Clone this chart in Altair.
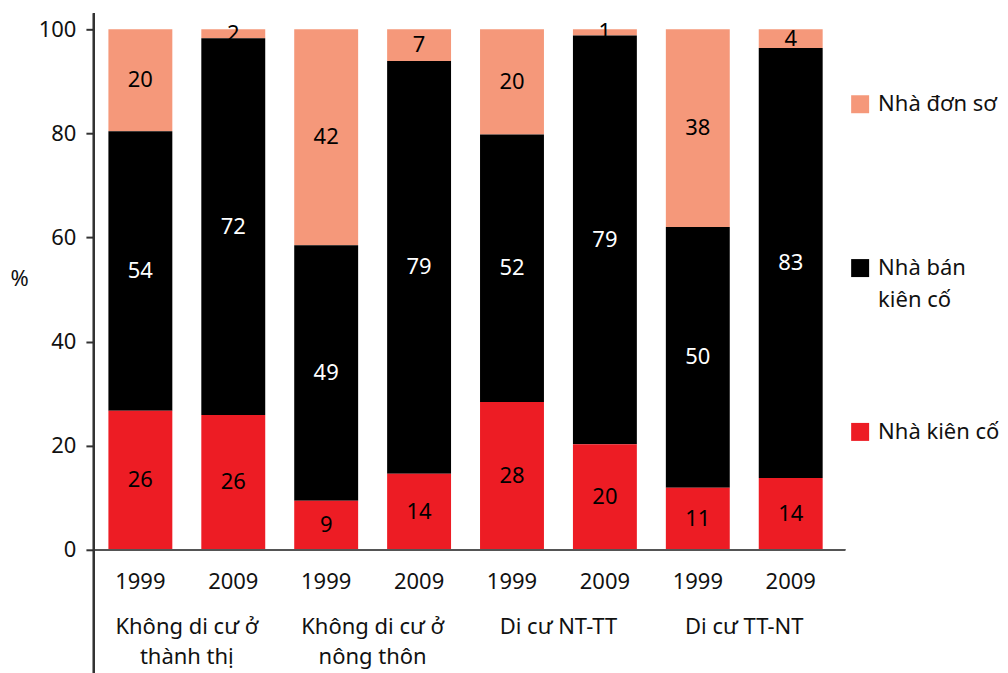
import altair as alt
import pandas as pd

# ---- data ----
groups = ["Không di cư ở\nthành thị", "Không di cư ở\nnông thôn", "Di cư NT-TT", "Di cư TT-NT"]
years = ["1999", "2009"]
types = ["Nhà đơn sơ", "Nhà bán kiên cố", "Nhà kiên cố"]

# segment heights (bars in order: group1 1999, group1 2009, ...)
kien_co = [26.7, 25.9, 9.4, 14.6, 28.4, 20.3, 11.9, 13.8]
ban_kien_co = [53.7, 72.4, 49.1, 79.3, 51.4, 78.5, 50.1, 82.6]
don_so = [19.6, 1.7, 41.5, 6.1, 20.2, 1.2, 38.0, 3.6]

# printed labels
lbl_kien_co = [26, 26, 9, 14, 28, 20, 11, 14]
lbl_ban_kien_co = [54, 72, 49, 79, 52, 79, 50, 83]
lbl_don_so = [20, 2, 42, 7, 20, 1, 38, 4]

colors = ["#F5987A", "#000000", "#ED1C24"]
label_colors = ["#000000", "#FFFFFF", "#000000"]

rows = []
series = [(types[0], don_so, lbl_don_so, 3),
          (types[1], ban_kien_co, lbl_ban_kien_co, 2),
          (types[2], kien_co, lbl_kien_co, 1)]
for t, vals, lbls, order in series:
    for i, (v, l) in enumerate(zip(vals, lbls)):
        rows.append({"group": groups[i // 2], "year": years[i % 2], "type": t,
                     "value": v, "label": str(l), "order": order})
df = pd.DataFrame(rows)

year_rows = [{"group": groups[i // 2], "year": years[i % 2]} for i in range(8)]
df_years = pd.DataFrame(year_rows)

FONT = "Noto Sans"
FS = 22
W, H = 744, 521

x_enc = alt.X("group:N", sort=groups,
              scale=alt.Scale(paddingInner=0, paddingOuter=0),
              axis=alt.Axis(title=None, domain=False, ticks=False, labelAngle=0,
                            labelPadding=67, labelFontSize=FS, labelFont=FONT,
                            labelColor="#111", labelLineHeight=30,
                            labelExpr="split(datum.label, '\\n')"))
xo_enc = alt.XOffset("year:N", sort=years,
                     scale=alt.Scale(paddingInner=0.312, paddingOuter=0.156))

bars = alt.Chart(df).mark_bar(stroke=None).encode(
    x=x_enc,
    xOffset=xo_enc,
    y=alt.Y("value:Q", stack="zero",
            scale=alt.Scale(domain=[0, 100], nice=False),
            axis=alt.Axis(values=[0, 20, 40, 60, 80, 100], grid=False, domain=False,
                          tickSize=8, tickColor="#333", tickWidth=2,
                          labelPadding=10, labelFontSize=FS, labelFont=FONT,
                          labelColor="#111",
                          title="%", titleAngle=0, titleAlign="left",
                          titleBaseline="middle", titleX=-84, titleY=249,
                          titleFontSize=FS, titleFont=FONT, titleFontWeight="normal",
                          titleColor="#111")),
    color=alt.Color("type:N", sort=types,
                    scale=alt.Scale(domain=types, range=colors),
                    legend=alt.Legend(title=None, orient="none", legendX=756, legendY=64,
                                      symbolType="square", symbolSize=324,
                                      symbolStrokeWidth=0, symbolOpacity=1,
                                      labelFontSize=FS, labelFont=FONT, labelColor="#111",
                                      labelOffset=7, rowPadding=110, labelLimit=0,
                                      padding=0,
                                      labelExpr="datum.label == 'Nhà bán kiên cố' ? ['Nhà bán', 'kiên cố'] : [datum.label, '']")),
    order=alt.Order("order:Q", sort="ascending"),
)

texts = alt.Chart(df).transform_stack(
    stack="value", groupby=["group", "year"], as_=["y0", "y1"],
    sort=[alt.SortField("order", order="ascending")]
).transform_calculate(
    mid="(datum.y0 + datum.y1) / 2"
).mark_text(font=FONT, fontSize=FS, baseline="middle").encode(
    x=alt.X("group:N", sort=groups),
    xOffset=alt.XOffset("year:N", sort=years),
    y=alt.Y("mid:Q"),
    text="label:N",
    color=alt.Color("type:N", scale=alt.Scale(domain=types, range=label_colors), legend=None),
)

year_text = alt.Chart(df_years).mark_text(font=FONT, fontSize=FS, baseline="middle",
                                          color="#111").encode(
    x=alt.X("group:N", sort=groups),
    xOffset=alt.XOffset("year:N", sort=years),
    y=alt.value(H + 32),
    text="year:N",
)

y_line = alt.Chart(df_years).mark_rule(color="#333", strokeWidth=2).encode(
    x=alt.value(0), y=alt.value(-16), y2=alt.value(H + 124))
x_line = alt.Chart(df_years).mark_rule(color="#555", strokeWidth=1.5).encode(
    x=alt.value(0), x2=alt.value(W + 8), y=alt.value(H))

chart = alt.layer(bars, texts, year_text, x_line, y_line).resolve_scale(
    color="independent"
).properties(
    width=W, height=H,
    padding={"left": 2, "top": 4, "right": 0, "bottom": 0},
).configure(
    view=alt.ViewConfig(stroke=None),
    style={"guide-label": {"lineHeight": 32}},
)

chart.save("out.html", embed_options={"renderer": "svg", "actions": False})
